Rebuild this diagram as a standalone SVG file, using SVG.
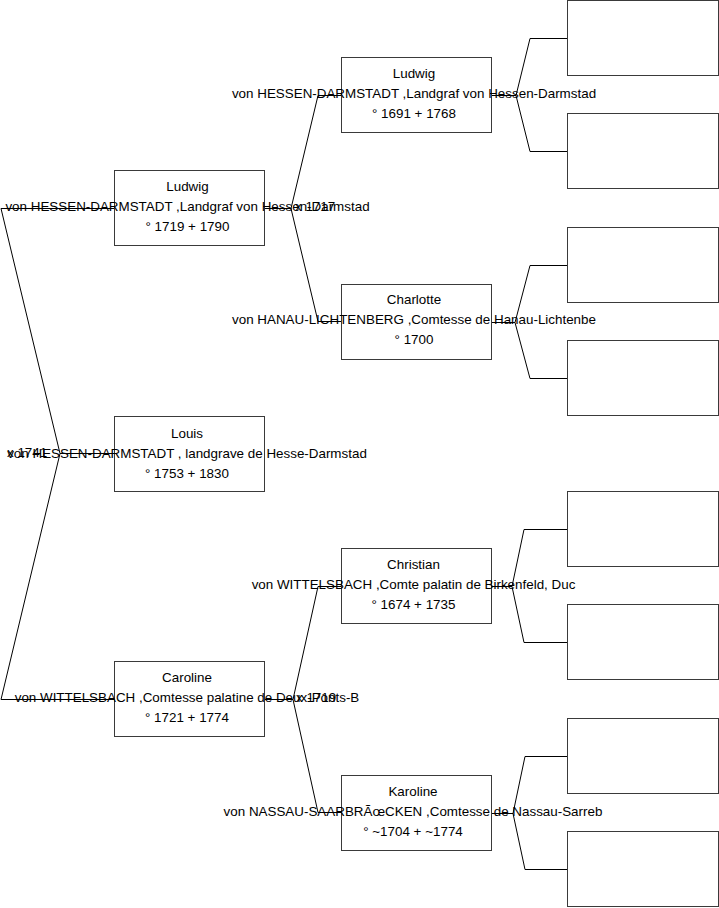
<svg xmlns="http://www.w3.org/2000/svg" width="719" height="908" viewBox="0 0 719 908">
<style>
.box{fill:#fff;stroke:#3a3a3a;stroke-width:1}
.c{fill:none;stroke:#000;stroke-width:1}
text{font-family:"Liberation Sans",Arial,sans-serif;font-size:13.4px;fill:#000}
.m{text-anchor:middle}
</style>
<rect width="719" height="908" fill="#fff"/>
<g id="connectors">
<path class="c" d="M114,453.5 H60 L1,208.5 H114 M60,453.5 L1,699.5 H114"/>
<path class="c" d="M265,208.5 H291 L318,95.5 H341 M291,208.5 L318,321.5 H341"/>
<path class="c" d="M265,699.5 H293 L318,586.5 H341 M293,699.5 L318,812.5 H341"/>
<path class="c" d="M491,95.5 H516 L530,38.5 H567 M516,95.5 L530,151.5 H567"/>
<path class="c" d="M491,322.5 H515 L530,265.5 H567 M515,322.5 L530,378.5 H567"/>
<path class="c" d="M491,586.5 H512 L524,529.5 H567 M512,586.5 L524,642.5 H567"/>
<path class="c" d="M491,813.5 H513 L525,756.5 H567 M513,813.5 L525,869.5 H567"/>
</g>
<g id="marriages">
<text x="7" y="457">x 1741</text>
<text x="295" y="211">x 1717</text>
<text x="296" y="702">x 1719</text>
</g>
<g id="louis">
<rect class="box" x="114.5" y="416.5" width="150" height="75"/>
<text class="m" x="187" y="438">Louis</text>
<text class="m" x="187" y="458">von HESSEN-DARMSTADT , landgrave de Hesse-Darmstad</text>
<text class="m" x="187" y="478">° 1753 + 1830</text>
</g>
<g id="ludwig1719">
<rect class="box" x="114.5" y="170.5" width="150" height="75"/>
<text class="m" x="187.5" y="191">Ludwig</text>
<text class="m" x="187.5" y="211">von HESSEN-DARMSTADT ,Landgraf von Hessen-Darmstad</text>
<text class="m" x="187.5" y="231">° 1719 + 1790</text>
</g>
<g id="caroline">
<rect class="box" x="114.5" y="661.5" width="150" height="75"/>
<text class="m" x="187" y="682">Caroline</text>
<text class="m" x="187" y="702">von WITTELSBACH ,Comtesse palatine de Deux-Ponts-B</text>
<text class="m" x="187" y="722">° 1721 + 1774</text>
</g>
<g id="ludwig1691">
<rect class="box" x="341.5" y="57.5" width="150" height="75"/>
<text class="m" x="414" y="78">Ludwig</text>
<text class="m" x="414" y="98">von HESSEN-DARMSTADT ,Landgraf von Hessen-Darmstad</text>
<text class="m" x="414" y="118">° 1691 + 1768</text>
</g>
<g id="charlotte">
<rect class="box" x="341.5" y="284.5" width="150" height="75"/>
<text class="m" x="414" y="304">Charlotte</text>
<text class="m" x="414" y="324">von HANAU-LICHTENBERG ,Comtesse de Hanau-Lichtenbe</text>
<text class="m" x="414" y="344">° 1700</text>
</g>
<g id="christian">
<rect class="box" x="341.5" y="548.5" width="150" height="75"/>
<text class="m" x="413.5" y="569">Christian</text>
<text class="m" x="413.5" y="589">von WITTELSBACH ,Comte palatin de Birkenfeld, Duc</text>
<text class="m" x="413.5" y="609">° 1674 + 1735</text>
</g>
<g id="karoline">
<rect class="box" x="341.5" y="775.5" width="150" height="75"/>
<text class="m" x="413" y="796">Karoline</text>
<text class="m" x="413" y="816">von NASSAU-SAARBRÃœCKEN ,Comtesse de Nassau-Sarreb</text>
<text class="m" x="413" y="836">° ~1704 + ~1774</text>
</g>
<g id="gen4">
<rect id="p1" class="box" x="567.5" y="0.5" width="151" height="75"/>
<rect id="p2" class="box" x="567.5" y="113.5" width="151" height="75"/>
<rect id="p3" class="box" x="567.5" y="227.5" width="151" height="75"/>
<rect id="p4" class="box" x="567.5" y="340.5" width="151" height="75"/>
<rect id="p5" class="box" x="567.5" y="491.5" width="151" height="75"/>
<rect id="p6" class="box" x="567.5" y="604.5" width="151" height="75"/>
<rect id="p7" class="box" x="567.5" y="718.5" width="151" height="75"/>
<rect id="p8" class="box" x="567.5" y="831.5" width="151" height="75"/>
</g>
</svg>
